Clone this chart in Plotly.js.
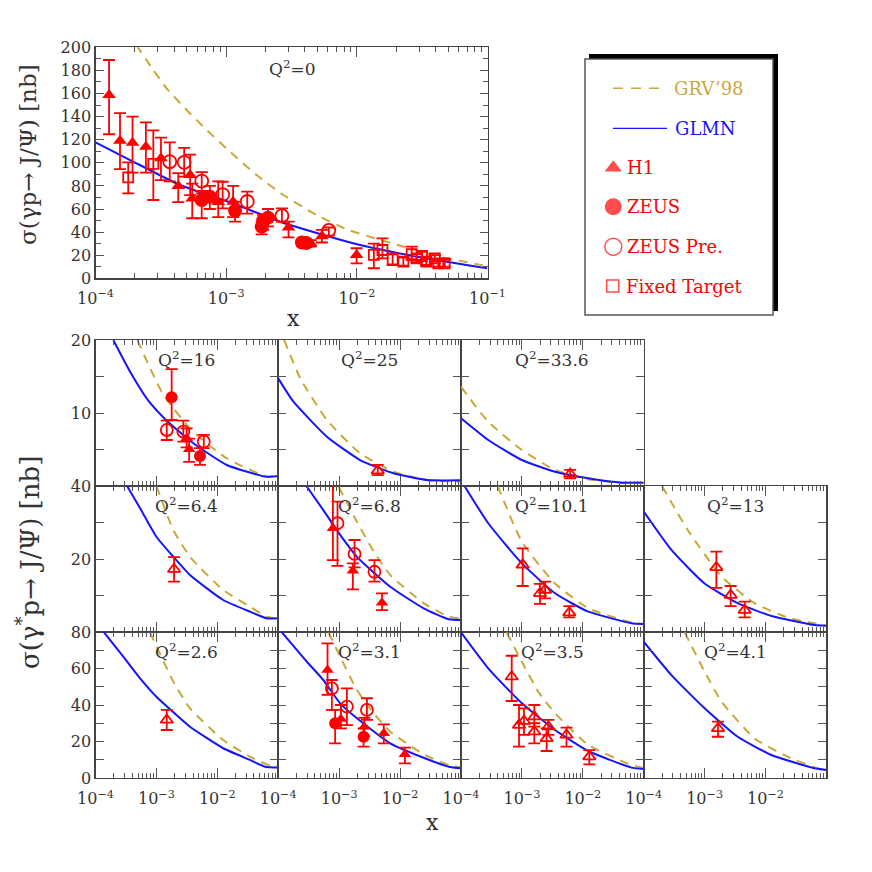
<!DOCTYPE html>
<html><head><meta charset="utf-8">
<script src="https://cdn.plot.ly/plotly-3.0.1.min.js"></script>
<style>html,body{margin:0;padding:0;background:#fff}#chart{width:872px;height:872px}</style>
</head><body><div id="chart"></div>
<script>
// ================= DATA =================
// --- Q^2 = 0 (photoproduction) ---
const q0_h1_x  = [1.27e-4,1.54e-4,1.92e-4,2.43e-4,3.17e-4,4.3e-4,5.3e-4,5.5e-4,8.7e-4,1.13e-3,3.0e-3,4.43e-3,5.4e-3,9.96e-3];
const q0_h1_y  = [158.6,119,117.4,114,104,80,89.4,69,66,66.3,44,30.3,36.5,20.2];
const q0_h1_hi = [189,143,140,135,121.8,91,107,82,84,80,49,33,42,26];
const q0_h1_lo = [124.7,94.6,91.5,91.5,85,66,72,52,53,53,35.5,27.5,31,13];

const q0_zeus_x  = [6.5e-4,7.5e-4,1.17e-3,1.87e-3,1.92e-3,2.09e-3,3.8e-3,4.1e-3];
const q0_zeus_y  = [67.8,70.6,58.5,44.7,50,52.5,31,30.5];
const q0_zeus_hi = [75.6,80,66.3,49,55,60,33.5,33];
const q0_zeus_lo = [52,60,49,38,42,45,28,27.5];

const q0_pre_x  = [3.7e-4,4.77e-4,6.5e-4,9.4e-4,1.45e-3,2.67e-3,6.1e-3];
const q0_pre_y  = [101,100.4,84.2,72.5,66.5,54.2,41.5];
const q0_pre_hi = [117.7,113,92,83.6,75,60.6,44];
const q0_pre_lo = [84,88,73.6,60.6,56,49,37];

const q0_ft_x  = [1.78e-4,2.77e-4,1.35e-2,1.57e-2,1.88e-2,2.27e-2,2.63e-2,2.87e-2,3.15e-2,3.4e-2,3.95e-2,4.2e-2,4.7e-2];
const q0_ft_y  = [87.4,99,20.2,24.5,16.4,14.4,21,17.3,19.3,14.4,17.3,13,13];
const q0_ft_hi = [100.4,128,30,34.6,21.6,18,27.4,21,23,17.5,20,16,16];
const q0_ft_lo = [73.6,67.8,8.7,17.3,11.5,11,15.8,14,16,11.5,14.5,10,10];

const q0_glmn_x = [1e-4,1.84e-4,4.43e-4,1.07e-3,2.58e-3,6.2e-3,1.06e-2,3.04e-2,1e-1];
const q0_glmn_y = [117.7,102.4,80.8,65.8,49,36,28.8,18.2,8.6];
const q0_grv_x  = [2.05e-4,2.77e-4,3.5e-4,4.84e-4,7.1e-4,1.07e-3,1.71e-3,2.74e-3,4.92e-3,8.35e-3,1.46e-2,4.07e-2,1e-1];
const q0_grv_y  = [202,180.3,164.5,147.2,128.4,109.6,89.4,72.1,54.8,42.5,33.8,19.3,10.5];

// --- Q^2 = 16 ---
const q16_zeus_x=[1.78e-3,5.2e-3], q16_zeus_y=[12.15,4.1], q16_zeus_hi=[16,5.2], q16_zeus_lo=[9.04,2.9];
const q16_pre_x=[1.48e-3,2.77e-3,6.0e-3], q16_pre_y=[7.67,7.44,6.07], q16_pre_hi=[8.95,8.95,7.0], q16_pre_lo=[6.3,6.07,5.2];
const q16_h1_x=[3.14e-3,3.45e-3], q16_h1_y=[6.53,5.02], q16_h1_hi=[7.9,6.5], q16_h1_lo=[5.3,3.3];
const q16_glmn_x=[1.96e-4,3.7e-4,7.6e-4,1.48e-3,4.04e-3,1.43e-2,6.07e-2,1e-1], q16_glmn_y=[20,15.66,11.55,8.95,5.85,2.88,1.3,1.35];
const q16_grv_x=[4.86e-4,1.3e-3,4e-3,1.43e-2,6.4e-2,1e-1], q16_grv_y=[20,12.5,7.44,3.8,1.28,1.3];

// --- Q^2 = 25 ---
const q25_h1o_x=[4.3e-3], q25_h1o_y=[2.1], q25_h1o_hi=[2.9], q25_h1o_lo=[1.5];
const q25_glmn_x=[1e-4,1.78e-4,6.3e-4,2.2e-3,7.8e-3,2.76e-2,1e-1], q25_glmn_y=[14.75,11.55,6.75,3.56,1.74,0.82,0.78];
const q25_grv_x=[1.25e-4,2.3e-4,6.3e-4,2.2e-3,7.8e-3,2.76e-2,7.7e-2,1e-1], q25_grv_y=[20,14.75,9.04,4.48,1.96,0.82,0.59,0.7];

// --- Q^2 = 33.6 ---
const q336_h1o_x=[6.2e-3], q336_h1o_y=[1.64], q336_h1o_hi=[2.2], q336_h1o_lo=[1.05];
const q336_glmn_x=[1e-4,2.8e-4,1e-3,3.5e-3,1.23e-2,4.4e-2,1e-1], q336_glmn_y=[9.27,6.3,3.56,1.96,1.05,0.45,0.45];
const q336_grv_x=[1e-4,2.8e-4,1e-3,3.5e-3,1.23e-2,4.4e-2,1e-1], q336_grv_y=[13.6,8.8,4.93,2.19,0.92,0.45,0.45];

// --- Q^2 = 6.4 ---
const q64_h1o_x=[1.95e-3], q64_h1o_y=[17.2], q64_h1o_hi=[20.5], q64_h1o_lo=[13.8];
const q64_glmn_x=[3.3e-4,5.4e-4,1e-3,1.9e-3,3.56e-3,1.25e-2,3.44e-2,6.45e-2,1e-1], q64_glmn_y=[40,33.9,26.1,20.6,15.6,8.77,5.57,3.74,3.74];
const q64_grv_x=[1e-3,1.9e-3,3.56e-3,1.25e-2,3.44e-2,6.45e-2,1e-1], q64_grv_y=[40,27.9,20.6,11.5,6.94,4.2,3.7];

// --- Q^2 = 6.8 ---
const q68_pre_x=[9.4e-4,1.79e-3,3.8e-3], q68_pre_y=[29.8,21.4,16.5], q68_pre_hi=[35.7,25.2,19.7], q68_pre_lo=[18.1,17.7,13.8];
const q68_h1_x=[7.9e-4,1.68e-3,5.05e-3], q68_h1_y=[28.4,16.8,8.0], q68_h1_hi=[42,18.8,10.6], q68_h1_lo=[19.7,11.7,6];
const q68_glmn_x=[2.9e-4,5.5e-4,1.04e-3,1.96e-3,6.9e-3,2.43e-2,6.3e-2,1e-1], q68_glmn_y=[40,33.4,26.6,20.6,12.4,6.5,3.5,3.3];
const q68_grv_x=[9.8e-4,1.96e-3,3.7e-3,6.9e-3,2.43e-2,6.3e-2,1e-1], q68_grv_y=[39.8,30.2,22,15.6,7.9,4.2,3.7];

// --- Q^2 = 10.1 ---
const q101_h1o_x=[1.03e-3,1.98e-3,2.4e-3,6e-3], q101_h1o_y=[18.4,10.6,11.5,5.3], q101_h1o_hi=[22.9,13.2,13.8,7.1], q101_h1o_lo=[12.6,7.7,9.2,4.0];
const q101_glmn_x=[1.16e-4,2.8e-4,1e-3,3.5e-3,1.23e-2,6.3e-2,1e-1], q101_glmn_y=[39.8,29.8,18.8,10.6,5.57,2.4,2.2];
const q101_grv_x=[4e-4,1e-3,3.5e-3,1.23e-2,6.3e-2,1e-1], q101_grv_y=[40,24.7,13.3,6.5,2.6,2.2];

// --- Q^2 = 13 ---
const q13_h1o_x=[1.56e-3,2.68e-3,4.55e-3], q13_h1o_y=[17.7,10.1,6], q13_h1o_hi=[22,12.6,8.3], q13_h1o_lo=[12.1,7.1,4.0];
const q13_glmn_x=[1e-4,2.85e-4,1e-3,3.5e-3,1.25e-2,6.4e-2,1e-1], q13_glmn_y=[33,22.5,13.3,7.9,4.4,1.9,1.7];
const q13_grv_x=[2e-4,5.3e-4,1.9e-3,6.6e-3,2.3e-2,1e-1], q13_grv_y=[40,27.9,15.2,7.9,4.0,1.7];

// --- Q^2 = 2.6 ---
const q26_h1o_x=[1.48e-3], q26_h1o_y=[31.8], q26_h1o_hi=[37.3], q26_h1o_lo=[26.3];
const q26_glmn_x=[1.38e-4,2.86e-4,5.4e-4,1e-3,1.9e-3,3.56e-3,1.25e-2,3.44e-2,6.05e-2,1e-1], q26_glmn_y=[79.8,66.5,54.6,44.5,36,28.1,16.3,9.9,6.2,5.7];
const q26_grv_x=[7.85e-4,1.9e-3,3.56e-3,1.25e-2,3.44e-2,7.3e-2,1e-1], q26_grv_y=[79.8,52.8,38.2,20.8,11.7,6.8,6];

// --- Q^2 = 3.1 ---
const q31_h1_x=[6.45e-4,1.07e-3,2.58e-3,5.4e-3,1.2e-2], q31_h1_y=[59.2,32.3,28.1,24.5,13], q31_h1_hi=[73.8,40,33,29.4,16.6], q31_h1_lo=[45.5,27.2,23,19,8];
const q31_zeus_x=[8.6e-4,2.52e-3], q31_zeus_y=[30,22.6], q31_zeus_hi=[37.3,27.2], q31_zeus_lo=[19,17.2];
const q31_pre_x=[7.6e-4,1.34e-3,2.86e-3], q31_pre_y=[49.1,39.1,37.3], q31_pre_hi=[53.7,49.1,43.7], q31_pre_lo=[37.3,29,31.8];
const q31_glmn_x=[1.15e-4,2.96e-4,5.5e-4,1.04e-3,1.96e-3,6.9e-3,2.43e-2,6.3e-2,1e-1], q31_glmn_y=[79.8,63.7,53.7,40.9,32.7,19,11.1,6.2,5.3];
const q31_grv_x=[6.7e-4,1.04e-3,1.96e-3,3.7e-3,6.9e-3,2.43e-2,6.3e-2,1e-1], q31_grv_y=[79.8,66.5,48.2,35.5,25.4,13,7.1,5.7];

// --- Q^2 = 3.5 ---
const q35_h1o_x=[6.8e-4,8.96e-4,1.08e-3,1.6e-3,1.6e-3,2.72e-3,2.55e-3,5.4e-3,1.28e-2];
const q35_h1o_y=[55.5,29,31.2,33.6,25.4,28.1,21.7,23.6,11.7];
const q35_h1o_hi=[67,40,38.2,40,30,31.8,27.2,27.6,15.3];
const q35_h1o_lo=[42.2,17.2,23.6,28.1,19,23.6,14.8,17.2,7.5];
const q35_glmn_x=[1e-4,2.8e-4,1e-3,3.5e-3,1.23e-2,6.3e-2,1e-1], q35_glmn_y=[79.8,60.1,40.9,26.3,14.8,5.7,4.9];
const q35_grv_x=[5.6e-4,1e-3,1.86e-3,3.5e-3,1.23e-2,6.3e-2,1e-1], q35_grv_y=[79.8,63.7,47.3,35.5,18.1,7.1,5.5];

// --- Q^2 = 4.1 ---
const q41_h1o_x=[1.66e-3], q41_h1o_y=[27.2], q41_h1o_hi=[30.9], q41_h1o_lo=[22.6];
const q41_glmn_x=[1e-4,2.85e-4,1e-3,3.5e-3,1.25e-2,6.4e-2,1e-1], q41_glmn_y=[74.7,56.4,38.2,22.6,12.6,5.3,4.4];
const q41_grv_x=[4.7e-4,1e-3,1.9e-3,6.6e-3,2.3e-2,7.1e-2,1e-1], q41_grv_y=[79.8,58.3,41.8,21.7,11.7,5.3,4.6];

// Labels
const legendLabels = ["GRV’98","GLMN","H1","ZEUS","ZEUS Pre.","Fixed Target"];
const xTickVals = [1e-4,1e-3,1e-2,1e-1];
const xTickTextTop = ["10<sup>−4</sup>","10<sup>−3</sup>","10<sup>−2</sup>","10<sup>−1</sup>"];
const xTickTextBottom = ["10<sup>−4</sup>","10<sup>−3</sup>","10<sup>−2</sup>",""];

// ================= BUILD =================
const RED='#ff0000', BLUE='#1414ff', GOLD='#c9a83a';
const FONT='DejaVu Serif';
const W=872;
const px=v=>v/W, py=v=>1-v/W;

const minorX=[];
for(let d=-4; d<=-2; d++) for(let k=2;k<=9;k++) minorX.push(k*Math.pow(10,d));

function errs(y,hi,lo){return {type:'data',symmetric:false,array:hi.map((h,i)=>h-y[i]),arrayminus:y.map((v,i)=>v-lo[i]),color:RED,thickness:1.8,width:6};}
function pts(ax,x,y,hi,lo,symbol,size){
  const open=symbol.indexOf('open')>=0;
  return {type:'scatter',mode:'markers',x:x,y:y,xaxis:ax[0],yaxis:ax[1],showlegend:false,hoverinfo:'skip',
    marker:{symbol:symbol,size:size,color:RED,line:{color:RED,width:open?1.8:0}},error_y:errs(y,hi,lo),cliponaxis:true};
}
function curve(ax,x,y,kind){
  const line = kind==='glmn'?{color:BLUE,width:2,shape:'spline',smoothing:0.5}:{color:GOLD,width:2,dash:'9px,7px',shape:'spline',smoothing:0.5};
  return {type:'scatter',mode:'lines',x:x,y:y,xaxis:ax[0],yaxis:ax[1],line:line,showlegend:false,hoverinfo:'skip'};
}

const traces=[];
// top panel
const TOP=['x','y'];
traces.push(curve(TOP,q0_grv_x,q0_grv_y,'grv'));
traces.push(curve(TOP,q0_glmn_x,q0_glmn_y,'glmn'));
traces.push(pts(TOP,q0_ft_x,q0_ft_y,q0_ft_hi,q0_ft_lo,'square-open',10));
traces.push(pts(TOP,q0_pre_x,q0_pre_y,q0_pre_hi,q0_pre_lo,'circle-open',13));
traces.push(pts(TOP,q0_zeus_x,q0_zeus_y,q0_zeus_hi,q0_zeus_lo,'circle',14));
traces.push(pts(TOP,q0_h1_x,q0_h1_y,q0_h1_hi,q0_h1_lo,'triangle-up',12));

const panels=[
 {r:0,c:0,lab:'16', glmn:[q16_glmn_x,q16_glmn_y], grv:[q16_grv_x,q16_grv_y],
   sets:[[q16_pre_x,q16_pre_y,q16_pre_hi,q16_pre_lo,'circle-open',12],[q16_zeus_x,q16_zeus_y,q16_zeus_hi,q16_zeus_lo,'circle',12],[q16_h1_x,q16_h1_y,q16_h1_hi,q16_h1_lo,'triangle-up',11]]},
 {r:0,c:1,lab:'25', glmn:[q25_glmn_x,q25_glmn_y], grv:[q25_grv_x,q25_grv_y],
   sets:[[q25_h1o_x,q25_h1o_y,q25_h1o_hi,q25_h1o_lo,'triangle-up-open',11]]},
 {r:0,c:2,lab:'33.6', glmn:[q336_glmn_x,q336_glmn_y], grv:[q336_grv_x,q336_grv_y],
   sets:[[q336_h1o_x,q336_h1o_y,q336_h1o_hi,q336_h1o_lo,'triangle-up-open',11]]},
 {r:1,c:0,lab:'6.4', glmn:[q64_glmn_x,q64_glmn_y], grv:[q64_grv_x,q64_grv_y],
   sets:[[q64_h1o_x,q64_h1o_y,q64_h1o_hi,q64_h1o_lo,'triangle-up-open',11]]},
 {r:1,c:1,lab:'6.8', glmn:[q68_glmn_x,q68_glmn_y], grv:[q68_grv_x,q68_grv_y],
   sets:[[q68_pre_x,q68_pre_y,q68_pre_hi,q68_pre_lo,'circle-open',12],[q68_h1_x,q68_h1_y,q68_h1_hi,q68_h1_lo,'triangle-up',11]]},
 {r:1,c:2,lab:'10.1', glmn:[q101_glmn_x,q101_glmn_y], grv:[q101_grv_x,q101_grv_y],
   sets:[[q101_h1o_x,q101_h1o_y,q101_h1o_hi,q101_h1o_lo,'triangle-up-open',11]]},
 {r:1,c:3,lab:'13', glmn:[q13_glmn_x,q13_glmn_y], grv:[q13_grv_x,q13_grv_y],
   sets:[[q13_h1o_x,q13_h1o_y,q13_h1o_hi,q13_h1o_lo,'triangle-up-open',11]]},
 {r:2,c:0,lab:'2.6', glmn:[q26_glmn_x,q26_glmn_y], grv:[q26_grv_x,q26_grv_y],
   sets:[[q26_h1o_x,q26_h1o_y,q26_h1o_hi,q26_h1o_lo,'triangle-up-open',11]]},
 {r:2,c:1,lab:'3.1', glmn:[q31_glmn_x,q31_glmn_y], grv:[q31_grv_x,q31_grv_y],
   sets:[[q31_pre_x,q31_pre_y,q31_pre_hi,q31_pre_lo,'circle-open',12],[q31_zeus_x,q31_zeus_y,q31_zeus_hi,q31_zeus_lo,'circle',12],[q31_h1_x,q31_h1_y,q31_h1_hi,q31_h1_lo,'triangle-up',11]]},
 {r:2,c:2,lab:'3.5', glmn:[q35_glmn_x,q35_glmn_y], grv:[q35_grv_x,q35_grv_y],
   sets:[[q35_h1o_x,q35_h1o_y,q35_h1o_hi,q35_h1o_lo,'triangle-up-open',11]]},
 {r:2,c:3,lab:'4.1', glmn:[q41_glmn_x,q41_glmn_y], grv:[q41_grv_x,q41_grv_y],
   sets:[[q41_h1o_x,q41_h1o_y,q41_h1o_hi,q41_h1o_lo,'triangle-up-open',11]]}
];

const colEdges=[95.5,278.2,461,643.7,826.4];
const rowEdges=[340,486,632,778];
const rowYmax=[20,40,80];
const rowTicks=[[5,10,15,20],[10,20,30,40],[0,10,20,30,40,50,60,70,80]];
const rowTickText=[['','10','','20'],['','20','','40'],['0','','20','','40','','60','','80']];

const axStyle={showline:true,linecolor:'#444',linewidth:1.2,mirror:'ticks',ticks:'inside',tickcolor:'#555',tickwidth:1,
  showgrid:false,zeroline:false,fixedrange:true,tickfont:{family:FONT,size:16,color:'#333'}};

const layout={width:W,height:W,autosize:false,margin:{l:0,r:0,t:0,b:0},paper_bgcolor:'#fff',plot_bgcolor:'rgba(0,0,0,0)',
  font:{family:FONT,color:'#333'},showlegend:false,annotations:[],shapes:[]};

layout.xaxis=Object.assign({},axStyle,{type:'log',domain:[px(95.5),px(487.5)],range:[-4,-1],anchor:'y',ticklen:10,ticklabelstandoff:5,
  tickmode:'array',tickvals:xTickVals,ticktext:xTickTextTop,
  minor:{tickmode:'array',tickvals:minorX,ticks:'inside',ticklen:5,tickcolor:'#555',tickwidth:1,showgrid:false}});
layout.yaxis=Object.assign({},axStyle,{domain:[py(278.3),py(47.3)],range:[0,200],anchor:'x',ticklen:8,tick0:0,dtick:20,
  minor:{dtick:10,ticks:'inside',ticklen:5,tickcolor:'#555',tickwidth:1,showgrid:false}});

panels.forEach((p,i)=>{
  const n=i+2, xa='x'+n, ya='y'+n;
  layout['xaxis'+n]=Object.assign({},axStyle,{type:'log',domain:[px(colEdges[p.c]),px(colEdges[p.c+1])],range:[-4,-1],anchor:ya,ticklen:10,ticklabelstandoff:6,
    tickmode:'array',tickvals:xTickVals,ticktext:xTickTextBottom,showticklabels:p.r===2,
    minor:{tickmode:'array',tickvals:minorX,ticks:'inside',ticklen:5,tickcolor:'#555',tickwidth:1,showgrid:false}});
  layout['yaxis'+n]=Object.assign({},axStyle,{domain:[py(rowEdges[p.r+1]),py(rowEdges[p.r])],range:[0,rowYmax[p.r]],anchor:xa,ticklen:8,
    tickmode:'array',tickvals:rowTicks[p.r],ticktext:rowTickText[p.r],showticklabels:p.c===0});
  traces.push(curve([xa,ya],p.grv[0],p.grv[1],'grv'));
  traces.push(curve([xa,ya],p.glmn[0],p.glmn[1],'glmn'));
  p.sets.forEach(s=>traces.push(pts([xa,ya],s[0],s[1],s[2],s[3],s[4],s[5])));
  layout.annotations.push({xref:'paper',yref:'paper',x:px((colEdges[p.c]+colEdges[p.c+1])/2),y:py(rowEdges[p.r]+19),
    text:'Q<sup>2</sup>='+p.lab,showarrow:false,xanchor:'center',yanchor:'middle',font:{family:FONT,size:17,color:'#333'}});
});

// Q2=0 label, axis titles
layout.annotations.push({xref:'paper',yref:'paper',x:px(292),y:py(68),text:'Q<sup>2</sup>=0',showarrow:false,xanchor:'center',yanchor:'middle',font:{family:FONT,size:17,color:'#333'}});
layout.annotations.push({xref:'paper',yref:'paper',x:px(28),y:py(155),text:'σ(γp→ J/Ψ) [nb]',textangle:-90,showarrow:false,xanchor:'center',yanchor:'middle',font:{family:FONT,size:23,color:'#333'}});
layout.annotations.push({xref:'paper',yref:'paper',x:px(28),y:py(563),text:'σ(γ<sup>*</sup>p→ J/Ψ) [nb]',textangle:-90,showarrow:false,xanchor:'center',yanchor:'middle',font:{family:FONT,size:26,color:'#333'}});
layout.annotations.push({xref:'paper',yref:'paper',x:px(293),y:py(318),text:'x',showarrow:false,xanchor:'center',yanchor:'middle',font:{family:FONT,size:22,color:'#333'}});
layout.annotations.push({xref:'paper',yref:'paper',x:px(432),y:py(822),text:'x',showarrow:false,xanchor:'center',yanchor:'middle',font:{family:FONT,size:22,color:'#333'}});

// Legend box
layout.shapes.push({type:'rect',xref:'paper',yref:'paper',x0:px(589),x1:px(778),y0:py(311),y1:py(54),fillcolor:'#000',line:{width:0},layer:'below'});
layout.shapes.push({type:'rect',xref:'paper',yref:'paper',x0:px(585),x1:px(773),y0:py(315),y1:py(59),fillcolor:'#fff',line:{color:'#555',width:1.5},layer:'below'});
layout.shapes.push({type:'line',xref:'paper',yref:'paper',x0:px(613),x1:px(667),y0:py(88.3),y1:py(88.3),line:{color:GOLD,width:1.5,dash:'10px,8px'}});
layout.shapes.push({type:'line',xref:'paper',yref:'paper',x0:px(613),x1:px(667),y0:py(128.3),y1:py(128.3),line:{color:BLUE,width:1.3}});
const legTextPos=[[672,88.3,GOLD],[673,128.3,BLUE],[625,167.7,RED],[625,206.7,RED],[625,246.7,RED],[624,286,RED]];
legendLabels.forEach((t,i)=>{
  layout.annotations.push({xref:'paper',yref:'paper',x:px(legTextPos[i][0]),y:py(legTextPos[i][1]),text:t,showarrow:false,xanchor:'left',yanchor:'middle',font:{family:FONT,size:18,color:legTextPos[i][2]}});
});
// legend symbols on an overlay pixel axis
layout.xaxis13={domain:[0,1],range:[0,W],visible:false,fixedrange:true,anchor:'y13'};
layout.yaxis13={domain:[0,1],range:[W,0],visible:false,fixedrange:true,anchor:'x13'};
traces.push({type:'scatter',mode:'markers',xaxis:'x13',yaxis:'y13',x:[613.3,613.3,613.3,612.7],y:[167.7,206.7,246.7,286],
  marker:{symbol:['triangle-up','circle','circle-open','square-open'],size:[15,17,17,12],color:RED,line:{color:RED,width:[0,0,1.5,1.5]}},
  showlegend:false,hoverinfo:'skip'});

Plotly.newPlot('chart',traces,layout,{staticPlot:true});
</script></body></html>
